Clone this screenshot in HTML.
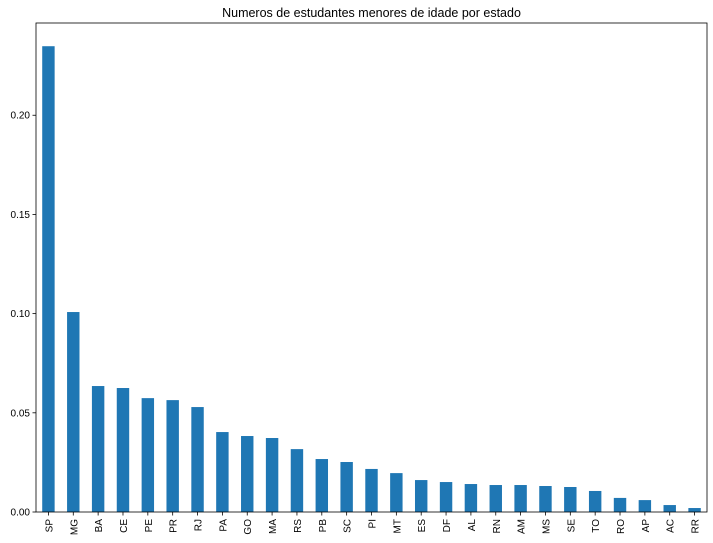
<!DOCTYPE html>
<html><head><meta charset="utf-8"><style>
body{margin:0;background:#fff;}
svg{display:block;font-family:"Liberation Sans","DejaVu Sans",sans-serif;}
</style></head><body>
<svg id="chart" width="713" height="543"></svg>
<script>
const categories=["SP","MG","BA","CE","PE","PR","RJ","PA","GO","MA","RS","PB","SC","PI","MT","ES","DF","AL","RN","AM","MS","SE","TO","RO","AP","AC","RR"];
const values=[0.2348,0.1008,0.0635,0.0625,0.0574,0.0564,0.0529,0.0403,0.0383,0.0373,0.0317,0.0267,0.0252,0.0217,0.0196,0.0161,0.0151,0.0141,0.0136,0.0136,0.0131,0.0126,0.0106,0.0071,0.0060,0.0035,0.0020];
const yTicks=[0,0.05,0.10,0.15,0.20];
const yTickLabels=["0.00","0.05","0.10","0.15","0.20"];
const NS="http://www.w3.org/2000/svg";
const svg=document.getElementById('chart');
const L=36,R=707,T=23,B=512;
const yMax=0.2465;
const y=v=>B-(v/yMax)*(B-T);
const step=(R-L)/categories.length;
const x=i=>L+step*(i+0.5);
function mk(tag,attrs){const e=document.createElementNS(NS,tag);for(const k in attrs)e.setAttribute(k,attrs[k]);svg.appendChild(e);return e;}
const title=mk('text',{x:(L+R)/2,y:17,'text-anchor':'middle','font-size':12.5,fill:'#000'});
title.textContent="Numeros de estudantes menores de idade por estado";


values.forEach((v,i)=>{
  const r=mk('rect',{x:x(i)-step*0.25,y:y(v),width:step*0.5,height:B-y(v),fill:'#1f77b4'});
  
  
  mk('line',{x1:x(i),x2:x(i),y1:B,y2:B+3.5,stroke:'#000','stroke-width':0.8});
  const t=mk('text',{transform:`translate(${x(i)+4},${B+7}) rotate(-90)`,'text-anchor':'end','font-size':10,fill:'#000'});
  t.textContent=categories[i];
  
  
});
yTicks.forEach((v,i)=>{
  mk('line',{x1:L-3.5,x2:L,y1:y(v),y2:y(v),stroke:'#000','stroke-width':0.8});
  const t=mk('text',{x:L-6,y:y(v)+3.5,'text-anchor':'end','font-size':10,fill:'#000'});
  t.textContent=yTickLabels[i];
  
  
});
const frame=mk('rect',{x:L,y:T,width:R-L,height:B-T,fill:'none',stroke:'#000','stroke-width':0.8});


</script>
</body></html>
